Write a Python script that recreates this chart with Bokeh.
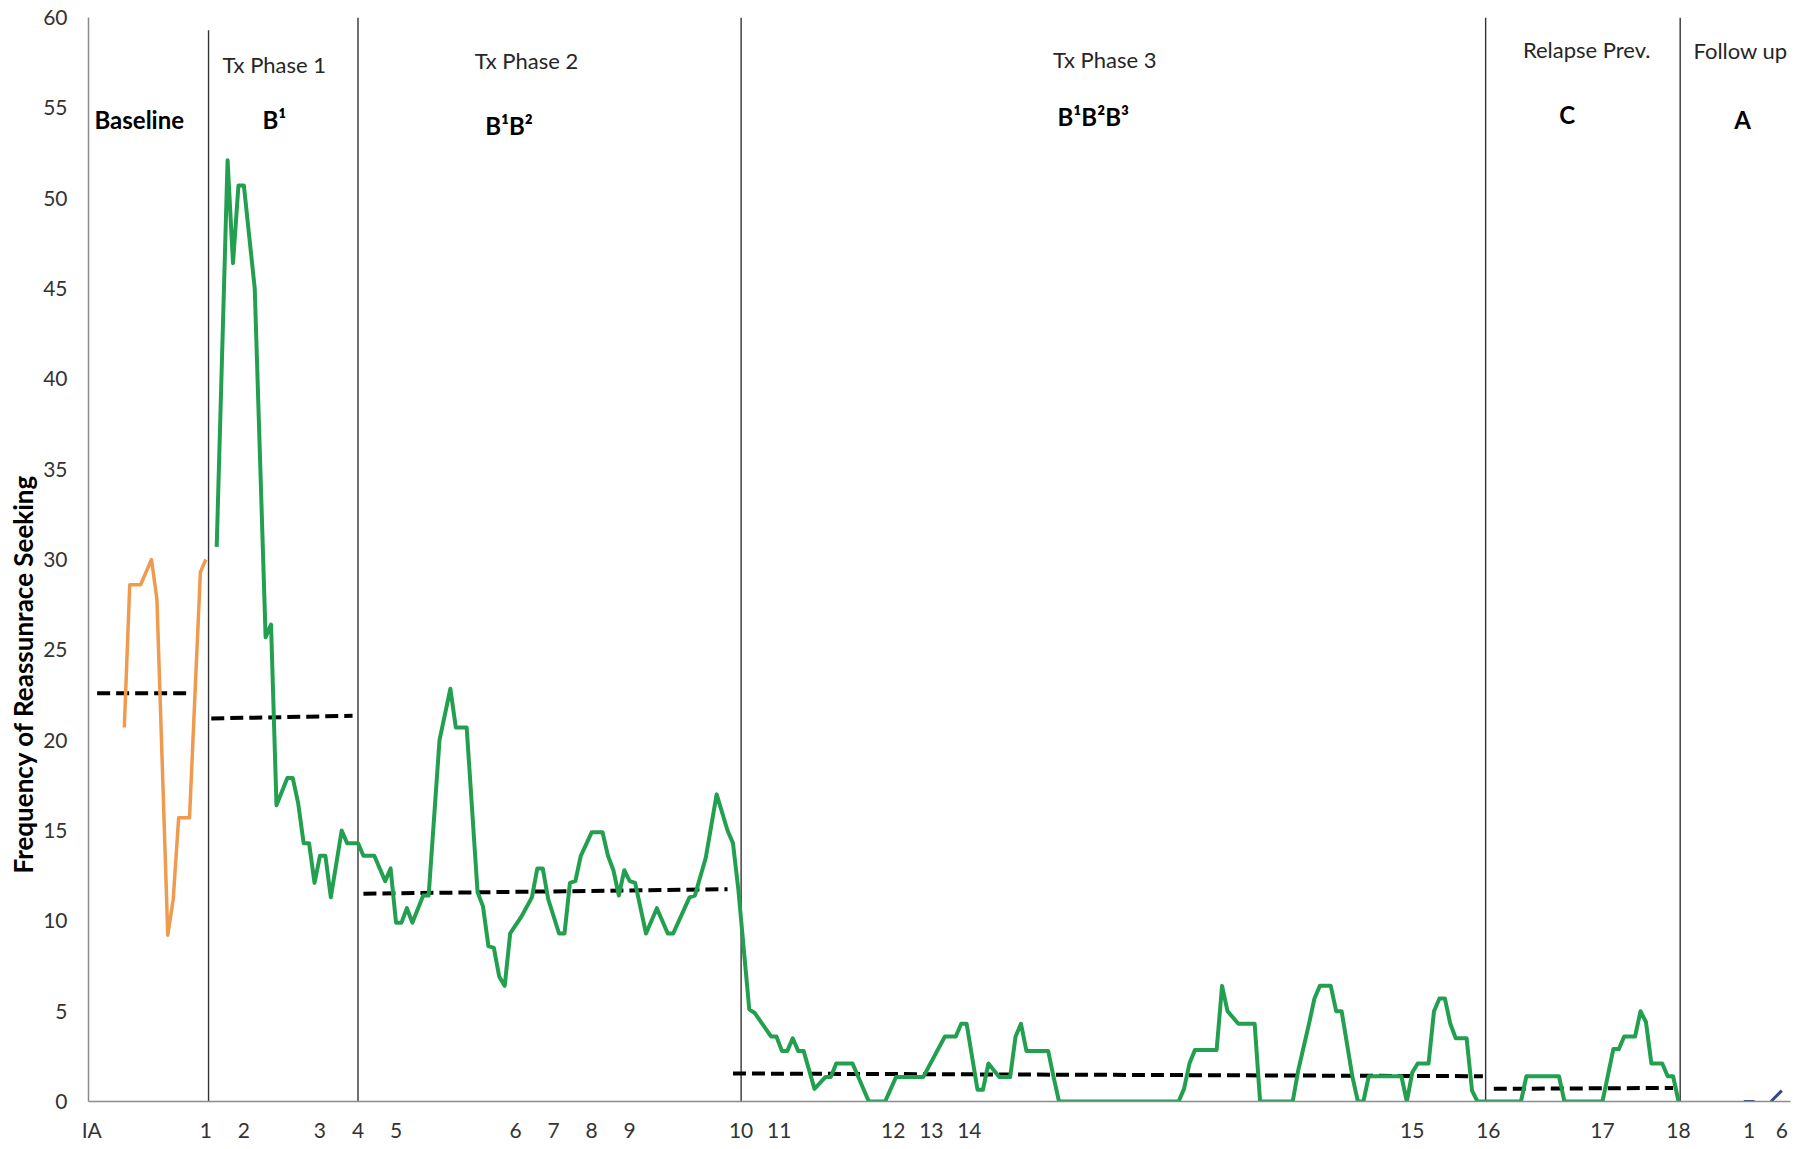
from bokeh.plotting import figure
from bokeh.models import FixedTicker, Range1d, Title
from bokeh.core.properties import value
from bokeh.embed import file_html
from bokeh.resources import INLINE

# ---------------- data (day index from intake assessment) ----------------
baseline_days = [6, 7, 9, 11, 12, 14, 15, 16, 18, 20, 21]
baseline_vals = [20.7, 28.6, 28.6, 30.0, 27.8, 9.2, 11.2, 15.7, 15.7, 29.3, 30.0]

tx1_days = [23, 25, 26, 27, 28, 30, 32, 33, 34, 36, 37, 38, 39, 40, 41, 42, 43, 44, 46, 47]
tx1_vals = [30.7, 52.1, 46.4, 50.7, 50.7, 45.0, 25.7, 26.4, 16.4, 17.9, 17.9, 16.5, 14.3,
            14.3, 12.1, 13.6, 13.6, 11.3, 15.0, 14.3]

tx2_days = [49, 50, 52, 54, 55, 56, 57, 58, 59, 61, 62, 64, 66, 67, 69, 71, 72, 73, 74, 75,
            76, 77, 79, 81, 82, 83, 84, 86, 87, 88, 89, 90, 92, 94, 95, 96, 97, 98, 99, 100,
            102, 104, 106, 107, 110, 111, 113, 115, 117, 118, 119]
tx2_vals = [14.3, 13.6, 13.6, 12.2, 12.9, 9.9, 9.9, 10.7, 9.9, 11.4, 11.4, 20.0, 22.85, 20.7,
            20.7, 11.6, 10.8, 8.6, 8.5, 6.9, 6.4, 9.3, 10.2, 11.3, 12.9, 12.9, 11.2, 9.3, 9.3,
            12.1, 12.2, 13.6, 14.9, 14.9, 13.6, 12.8, 11.4, 12.8, 12.2, 12.1, 9.3, 10.7, 9.3,
            9.3, 11.3, 11.4, 13.5, 17.0, 15.0, 14.3, 11.7]

tx3_days = [121, 122, 125, 126, 127, 128, 129, 130, 131, 133, 135, 136, 137, 140, 143, 146,
            148, 153, 157, 159, 160, 161, 163, 164, 165, 167, 169, 170, 171, 172, 176, 177,
            178, 200, 201, 202, 203, 207, 208, 209, 211, 214, 215, 221, 222, 224, 225, 226,
            228, 229, 230, 232, 233, 234, 235, 241, 242, 243, 244, 246, 247, 248, 249, 250,
            251, 253, 254, 255]
tx3_vals = [5.1, 4.9, 3.6, 3.6, 2.8, 2.8, 3.5, 2.8, 2.8, 0.7, 1.35, 1.35, 2.1, 2.1, 0.0, 0.0,
            1.35, 1.35, 3.6, 3.6, 4.3, 4.3, 0.65, 0.65, 2.1, 1.35, 1.35, 3.6, 4.3, 2.8, 2.8,
            1.35, 0.0, 0.0, 0.7, 2.1, 2.85, 2.85, 6.4, 5.0, 4.3, 4.3, 0.0, 0.0, 1.7, 4.3, 5.7,
            6.4, 6.4, 5.0, 5.0, 1.35, 0.0, 0.0, 1.4, 1.4, 0.0, 1.6, 2.1, 2.1, 5.0, 5.7, 5.7,
            4.3, 3.5, 3.5, 0.6, 0.0]

relapse_days = [263, 264, 270, 271, 278, 280, 281, 282, 284, 285, 286, 287, 289, 290, 291, 292]
relapse_vals = [0.0, 1.4, 1.4, 0.0, 0.0, 2.9, 2.9, 3.6, 3.6, 5.0, 4.4, 2.1, 2.1, 1.4, 1.4, 0.0]

followup_days_a = [304, 306]
followup_vals_a = [0.0, 0.0]
followup_days_b = [309, 311]
followup_vals_b = [0.0, 0.6]

# phase means (dashed level lines)
mean_start_day = [1, 22, 50, 118, 258]
mean_end_day = [18, 48, 117, 256, 291]
mean_start_val = [22.6, 21.2, 11.5, 1.55, 0.7]
mean_end_val = [22.6, 21.35, 11.75, 1.4, 0.75]

# phase change lines
phase_change_day = [21.5, 49, 119.5, 256.5, 292.3]

# session tick labels
session_days = [0, 21, 28, 42, 49, 56, 78, 85, 92, 99, 119.5, 126.5, 147.5, 154.5, 161.5,
                243, 257, 278, 292, 305, 311]
session_labels = ["IA", "1", "2", "3", "4", "5", "6", "7", "8", "9", "10", "11", "12", "13", "14",
                  "15", "16", "17", "18", "1", "6"]

y_ticks = list(range(0, 61, 5))

phase_names = ["Tx Phase 1", "Tx Phase 2", "Tx Phase 3", "Relapse Prev.", "Follow up"]
phase_codes = ["Baseline", "B\u00b9", "B\u00b9B\u00b2", "B\u00b9B\u00b2B\u00b3", "C", "A"]

# ---------------- layout (label placement) ----------------
name_x = [33.6, 80.0, 186.4, 275.1, 303.4]
name_y = [57.4, 57.6, 57.7, 58.25, 58.2]
code_x = [8.75, 33.6, 76.8, 184.3, 271.5, 303.8]
code_y = [54.35, 54.35, 54.0, 54.5, 54.65, 54.35]
phase_top = [59.3, 60, 60, 60, 60]
phase_bottom = [0, 0, 0, 0, 0]

FONT = "Lato"
GREEN = "#22A04F"
ORANGE = "#EF9B4F"

treat_days = tx1_days + tx2_days + tx3_days + relapse_days
treat_vals = tx1_vals + tx2_vals + tx3_vals + relapse_vals

p = figure(width=1813, height=1149, output_backend="svg", toolbar_location=None,
           x_range=Range1d(-0.59, 312.6), y_range=Range1d(0, 60),
           min_border_left=88, min_border_right=23, min_border_top=17, min_border_bottom=48)
p.outline_line_color = None
p.grid.visible = False
p.background_fill_color = "white"
p.border_fill_color = "white"

# phase change lines
p.segment(x0=phase_change_day, y0=phase_bottom, x1=phase_change_day, y1=phase_top,
          line_color="#333333", line_width=1.4)

# mean lines
p.segment(x0=mean_start_day, y0=mean_start_val, x1=mean_end_day, y1=mean_end_val,
          line_color="black", line_width=4, line_dash="13 6")

# series
p.line(baseline_days, baseline_vals, line_color=ORANGE, line_width=3.5, line_join="round")
p.line(treat_days, treat_vals, line_color=GREEN, line_width=4, line_join="round")
p.line(followup_days_a, followup_vals_a, line_color="#2E4B7C", line_width=3)
p.line(followup_days_b, followup_vals_b, line_color="#2E4B7C", line_width=3)

# phase names & codes
p.text(x=name_x, y=name_y, text=phase_names, text_font=value(FONT), text_font_size="22px",
       text_align="center", text_baseline="middle", text_color="#262626")
p.text(x=code_x, y=code_y, text=phase_codes, text_font=value(FONT), text_font_size="24px",
       text_font_style="bold", text_align="center", text_baseline="middle", text_color="black")

# axes
p.yaxis.ticker = FixedTicker(ticks=y_ticks)
p.xaxis.ticker = FixedTicker(ticks=session_days)
p.xaxis.major_label_overrides = {d: l for d, l in zip(session_days, session_labels)}
for ax in (p.xaxis, p.yaxis):
    ax.major_label_text_font = FONT
    ax.major_label_text_font_size = "21px"
    ax.major_label_text_color = "#333333"
    ax.major_tick_line_color = None
    ax.minor_tick_line_color = None
    ax.major_tick_out = 0
    ax.major_tick_in = 0
    ax.minor_tick_out = 0
    ax.axis_line_color = "#8c8c8c"
    ax.axis_line_width = 1.5
p.yaxis.major_label_standoff = 21
p.xaxis.major_label_standoff = 15

p.add_layout(Title(text="Frequency of Reassunrace Seeking", align="left", offset=228,
                   text_font=FONT, text_font_size="26px", text_font_style="bold",
                   text_color="black", standoff=4), "left")

open("out.html", "w").write(file_html(p, INLINE))
